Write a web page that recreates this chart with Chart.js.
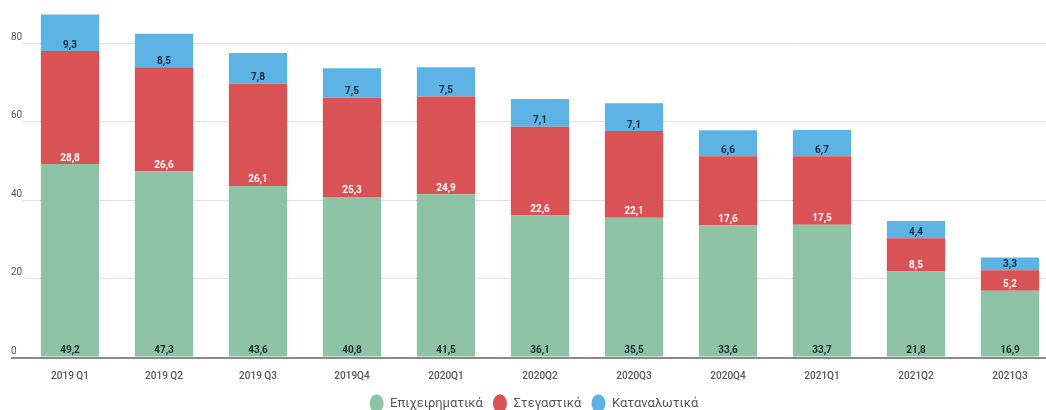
<!DOCTYPE html>
<html>
<head>
<meta charset="utf-8">
<script src="https://cdn.jsdelivr.net/npm/chart.js@4.4.1/dist/chart.umd.min.js"></script>
<style>
  html, body { margin: 0; padding: 0; background: #fff; overflow: hidden; }
  #wrap { position: absolute; left: 0; top: 0; width: 1060px; height: 420px; }
</style>
</head>
<body>
<div id="wrap"><canvas id="chart"></canvas></div>
<script>
// Data
const quarters = ['2019 Q1', '2019 Q2', '2019 Q3', '2019Q4', '2020Q1', '2020Q2', '2020Q3', '2020Q4', '2021Q1', '2021Q2', '2021Q3'];
const business = [49.2, 47.3, 43.6, 40.8, 41.5, 36.1, 35.5, 33.6, 33.7, 21.8, 16.9];
const housing = [28.8, 26.6, 26.1, 25.3, 24.9, 22.6, 22.1, 17.6, 17.5, 8.5, 5.2];
const consumer = [9.3, 8.5, 7.8, 7.5, 7.5, 7.1, 7.1, 6.6, 6.7, 4.4, 3.3];
const yTicks = [0, 20, 40, 60, 80];

const FONT = 'Roboto, "Noto Sans", sans-serif';

// value labels at the bottom of each segment + the dark zero line
const segmentLabels = {
    id: 'segmentLabels',
    afterDatasetsDraw(chart) {
        const ctx = chart.ctx;
        ctx.save();
        ctx.font = 'bold 10px ' + FONT;
        ctx.textAlign = 'center';
        ctx.textBaseline = 'middle';
        chart.data.datasets.forEach((ds, i) => {
            const meta = chart.getDatasetMeta(i);
            meta.data.forEach((bar, j) => {
                ctx.fillStyle = ds.labelColor;
                ctx.fillText(ds.data[j].toFixed(1).replace('.', ','), bar.x, bar.base - 6);
            });
        });
        const y0 = chart.scales.y.getPixelForValue(0);
        ctx.strokeStyle = '#8a8a8a';
        ctx.lineWidth = 2;
        ctx.beginPath();
        ctx.moveTo(11, y0 + 1);
        ctx.lineTo(chart.width, y0 + 1);
        ctx.stroke();
        ctx.restore();
    }
};

const chart = new Chart(document.getElementById('chart'), {
    type: 'bar',
    data: {
        labels: quarters,
        datasets: [
            { label: 'Επιχειρηματικά', data: business, backgroundColor: '#8ec3a6', labelColor: '#1b2a33' },
            { label: 'Στεγαστικά', data: housing, backgroundColor: '#d95256', labelColor: '#ffffff' },
            { label: 'Καταναλωτικά', data: consumer, backgroundColor: '#5db4e4', labelColor: '#1b2a40' }
        ]
    },
    options: {
        responsive: true,
        maintainAspectRatio: false,
        animation: false,
        layout: { padding: { left: 11, top: 4, right: 3, bottom: 0 } },
        datasets: { bar: { barPercentage: 0.62, categoryPercentage: 1 } },
        plugins: {
            tooltip: { enabled: false },
            legend: {
                position: 'bottom',
                labels: {
                    usePointStyle: true,
                    pointStyle: 'circle',
                    boxHeight: 14,
                    pointStyleWidth: 14,
                    padding: 10,
                    color: '#555',
                    font: { family: FONT, size: 13 }
                }
            }
        },
        scales: {
            x: {
                stacked: true,
                grid: { display: false },
                border: { display: false },
                ticks: { color: '#555', padding: 5, font: { family: FONT, size: 10, weight: '500' }, maxRotation: 0 },
                afterFit: s => { s.height = 30; }
            },
            y: {
                stacked: true,
                min: 0,
                max: 90,
                grid: { color: '#e2e2e2', drawTicks: false },
                border: { display: false },
                ticks: { color: '#555', crossAlign: 'far', labelOffset: -6, font: { family: FONT, size: 10 } },
                afterBuildTicks: s => { s.ticks = yTicks.map(v => ({ value: v })); },
                afterFit: s => { s.width = 12; s.paddingTop = 0; s.paddingBottom = 0; }
            }
        }
    },
    plugins: [segmentLabels]
});
</script>
</body>
</html>
